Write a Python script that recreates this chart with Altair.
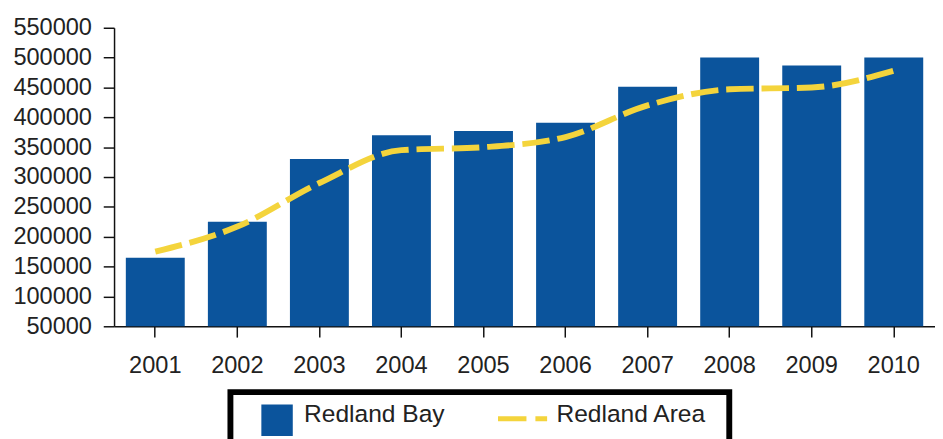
import altair as alt
import pandas as pd

years = ["2001", "2002", "2003", "2004", "2005", "2006", "2007", "2008", "2009", "2010"]
redland_bay = [165000, 225000, 330000, 370000, 377000, 391000, 451000, 500000, 487000, 500000]
redland_area = [175000, 217000, 290000, 345000, 350000, 367000, 420000, 447000, 450000, 478000]
series_names = ["Redland Bay", "Redland Area"]
y_ticks = [50000, 100000, 150000, 200000, 250000, 300000, 350000, 400000, 450000, 500000, 550000]

BLUE = "#0b549c"
YELLOW = "#f4d43c"
FONT = "Liberation Sans"

# legend symbol shapes (square for the bars, dashed stroke for the line);
# both share the same vertical extent so the legend entries line up
SQUARE_PATH = "M-1,-0.625H1V1.375H-1Z"
DASH_PATH = "M0,-0.625M0,1.375M-2,0.28H-0.19M0.38,0.28H1.125M11.8,0.28"

df = pd.DataFrame({
    "year": years + years,
    "series": [series_names[0]] * len(years) + [series_names[1]] * len(years),
    "value": redland_bay + redland_area,
})

x_enc = alt.X(
    "year:N", sort=years, title=None,
    scale=alt.Scale(paddingInner=0.282, paddingOuter=0.1435),
    axis=alt.Axis(labelAngle=0, tickSize=11, labelPadding=17, labelFontSize=24),
)
y_enc = alt.Y(
    "value:Q", title=None,
    scale=alt.Scale(domain=[50000, 550000], zero=False, nice=False),
    axis=alt.Axis(values=y_ticks, format="d", grid=False, tickSize=11, labelPadding=12, labelFontSize=24),
)

legend = alt.Legend(
    title=None,
    orient="none",
    legendX=118.5,
    legendY=371,
    direction="horizontal",
    symbolType={"expr": "datum.value === 'Redland Bay' ? '" + SQUARE_PATH + "' : '" + DASH_PATH + "'"},
    symbolStrokeColor={"expr": "datum.value === 'Redland Bay' ? 'transparent' : '" + YELLOW + "'"},
    symbolSize=1024,
    symbolStrokeWidth=5,
    symbolOffset=25,
    labelOffset=9,
    columnPadding=42,
    padding=4,
    strokeColor="#000000",
    labelFontSize=25,
    labelFont=FONT,
    labelColor="#222222",
)

bars = alt.Chart(df).transform_filter(
    alt.datum.series == series_names[0]
).mark_bar().encode(
    x=x_enc,
    y=y_enc,
    y2=alt.datum(y_ticks[0]),
    color=alt.Color(
        "series:N",
        scale=alt.Scale(domain=series_names, range=[BLUE, YELLOW]),
        legend=legend,
    ),
)

line = alt.Chart(df).transform_filter(
    alt.datum.series == series_names[1]
).mark_line(
    color=YELLOW, strokeWidth=6, strokeDash=[28, 8], interpolate="monotone"
).encode(x=x_enc, y=y_enc)

chart = alt.layer(bars, line).properties(
    width=836,
    height=304,
    autosize=alt.AutoSizeParams(type="none"),
    padding={"left": 108, "top": 16, "right": 0, "bottom": 130},
).configure_view(stroke=None).configure_axis(
    domainColor="#111111",
    domainWidth=1.5,
    tickColor="#111111",
    tickWidth=1.5,
    labelColor="#222222",
    labelFont=FONT,
).configure_legend(strokeWidth=6)

chart.save("out.html", embed_options={"renderer": "svg", "actions": False})
